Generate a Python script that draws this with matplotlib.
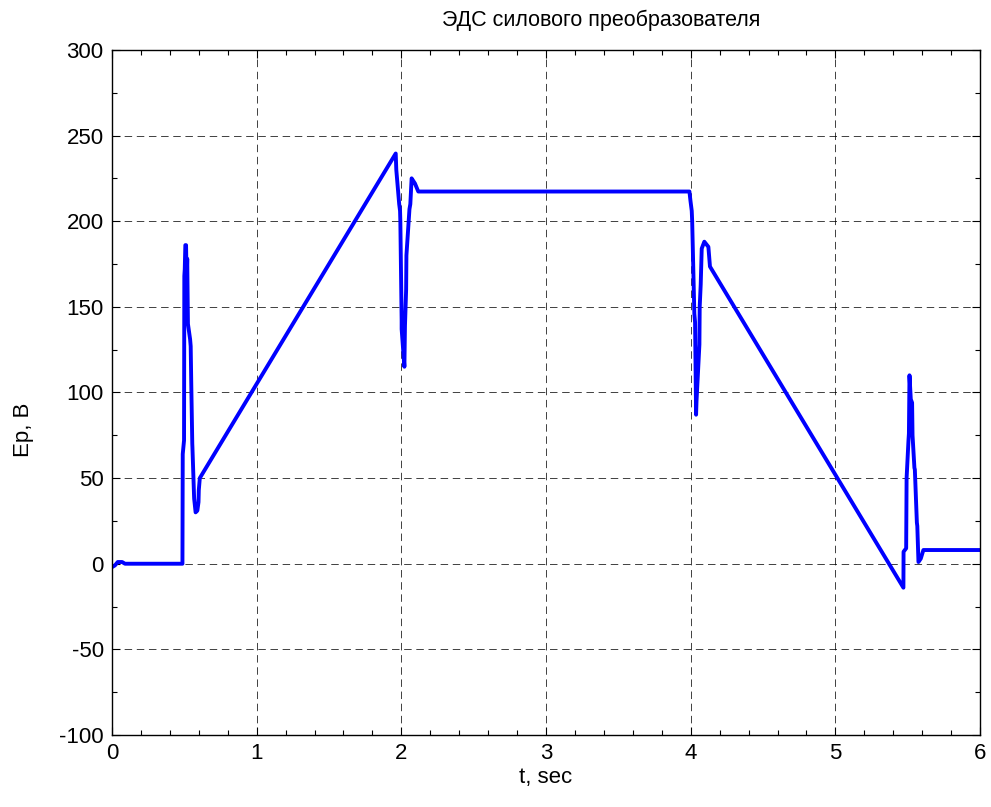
import matplotlib.pyplot as plt
from matplotlib.ticker import MultipleLocator

plt.rcParams['font.family'] = ['Liberation Sans', 'DejaVu Sans']
plt.rcParams['axes.unicode_minus'] = False

# EMF of the power converter, read as breakpoints of the waveform
t = [0.0, 0.02, 0.04, 0.07, 0.09, 0.487,
     0.489, 0.498, 0.500, 0.503, 0.507, 0.512, 0.516, 0.520, 0.525, 0.540,
     0.544, 0.548, 0.555, 0.556, 0.567, 0.568, 0.578, 0.590, 0.598, 0.600, 0.607,
     1.961, 1.965, 1.985, 1.991, 1.993, 2.002, 2.002, 2.021, 2.025, 2.033,
     2.035, 2.056, 2.062, 2.071, 2.094, 2.117, 3.991,
     3.998, 4.007, 4.010, 4.025, 4.030, 4.037, 4.040, 4.060, 4.062, 4.069,
     4.076, 4.094, 4.122, 4.133, 5.470,
     5.471, 5.489, 5.492, 5.505, 5.508, 5.512, 5.521, 5.530, 5.533, 5.546,
     5.549, 5.563, 5.566, 5.574, 5.590, 5.608, 5.63, 6.0]
ep = [-2, -1, 1, 1, 0, 0,
      64, 72, 168, 172, 186, 186, 165, 178, 140, 131,
      127, 105, 70, 68, 40, 38, 30, 31, 36, 43, 50,
      239.5, 230, 210, 206, 200, 142, 137, 115, 139, 160,
      180, 207, 210, 225, 222, 217.3, 217.3,
      212, 206, 200, 146, 141, 87, 95, 128, 150, 163,
      184, 188, 185, 173.5, -14,
      7, 9, 50, 72, 76, 110, 96, 94, 75, 56,
      55, 24, 22, 1, 3, 8, 8, 8]

xticks = [0, 1, 2, 3, 4, 5, 6]
yticks = [-100, -50, 0, 50, 100, 150, 200, 250, 300]

fig = plt.figure(figsize=(9.91, 8.07), dpi=100)
ax = fig.add_axes([0.113, 0.0892, 0.876, 0.849])

ax.plot(t, ep, color='#0000ff', lw=2.8, solid_joinstyle='round')

ax.set_xlim(0, 6)
ax.set_ylim(-100, 300)
ax.set_xticks(xticks)
ax.set_yticks(yticks)
ax.xaxis.set_minor_locator(MultipleLocator(0.2))
ax.yaxis.set_minor_locator(MultipleLocator(25))
ax.tick_params(which='both', direction='in', top=True, right=True,
               labelsize=16, width=0.8, pad=6)
ax.tick_params(which='major', length=6)
ax.tick_params(which='minor', length=3.5)

ax.grid(True, which='major', color='black', lw=0.7,
        linestyle=(0, (7.7, 4.8)), alpha=0.75)
for s in ax.spines.values():
    s.set_linewidth(1.0)

ax.text(0.563, 1.028, 'ЭДС силового преобразователя', transform=ax.transAxes,
        ha='center', va='bottom', fontsize=15.5)
ax.set_xlabel('t, sec', fontsize=16, labelpad=2)
ax.set_ylabel('Ep, В', fontsize=16)
ax.yaxis.set_label_coords(-0.09, 0.445)

fig.savefig('out.png', dpi=100)
